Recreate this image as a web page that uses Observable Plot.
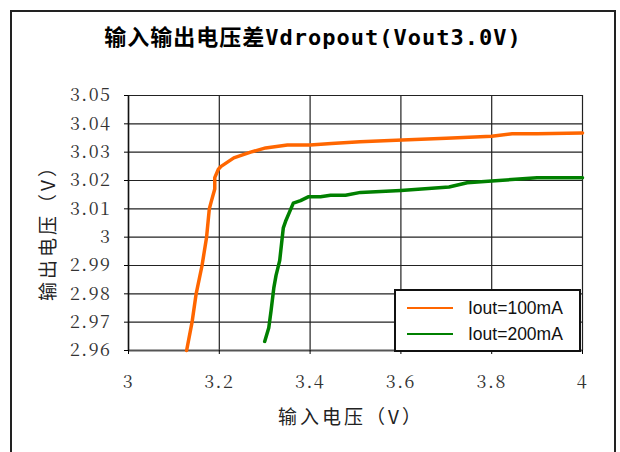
<!DOCTYPE html>
<html>
<head>
<meta charset="utf-8">
<script src="https://cdn.jsdelivr.net/npm/d3@7"></script>
<script src="https://cdn.jsdelivr.net/npm/@observablehq/plot@0.6"></script>
<style>
  html, body { margin: 0; padding: 0; background: #fff; }
  #wrap { position: relative; width: 620px; height: 452px; overflow: hidden; background: #fff; }
  #frame { position: absolute; left: 10px; top: 10px; width: 606px; height: 460px; border: 2px solid #222; box-sizing: border-box; pointer-events: none; }
  #title { position: absolute; left: 3px; top: 0; width: 620px; height: 60px; text-align: center; line-height: 76px;
           font-family: "DejaVu Sans Mono", "Noto Sans CJK SC", monospace; font-weight: bold; font-size: 22px; letter-spacing: 1px; color: #000; }
  #chart { position: absolute; left: 0; top: 60px; }
  .axlabel { position: absolute; font-family: "Noto Sans CJK SC", sans-serif; font-size: 19px; letter-spacing: 3px; color: #222; white-space: nowrap; }
  #xlab { left: 351px; top: 415px; transform: translate(-50%, -50%); }
  #ylab { left: 46px; top: 228px; transform: translate(-50%, -50%) rotate(-90deg); }
  #legend { position: absolute; left: 394px; top: 289px; width: 187px; height: 63px; box-sizing: border-box; border: 2px solid #111; background: #fff;
            font-family: "Liberation Sans", Arial, sans-serif; font-size: 17.5px; color: #111; }
  .lg { position: absolute; left: 0; height: 26px; width: 100%; }
  .lg .sw { position: absolute; left: 11px; top: 12px; width: 46px; height: 0; border-top: 2.5px solid; }
  .lg .tx { position: absolute; left: 72px; top: 0; line-height: 26px; }
</style>
</head>
<body>
<div id="wrap">
  <div id="title">输入输出电压差Vdropout(Vout3.0V)</div>
  <div id="chart"></div>
  <div class="axlabel" id="xlab">输入电压（V）</div>
  <div class="axlabel" id="ylab">输出电压（V）</div>
  <div id="legend"></div>
  <div id="frame"></div>
</div>
<script>
// Series names and colours
const seriesNames = ["Iout=100mA", "Iout=200mA"];
const seriesColors = ["#FF6600", "#008000"];

// Iout=100mA: input voltage (V) and output voltage (V)
const vin100  = [3.128, 3.140, 3.149, 3.162, 3.172, 3.178, 3.183, 3.190, 3.190, 3.198, 3.204, 3.232, 3.269, 3.302, 3.350, 3.400, 3.447, 3.510, 3.603, 3.700, 3.800, 3.845, 3.900, 4.000];
const vout100 = [2.960, 2.970, 2.980, 2.990, 3.000, 3.010, 3.013, 3.017, 3.021, 3.024, 3.025, 3.028, 3.030, 3.0315, 3.0325, 3.0325, 3.0331, 3.0337, 3.0343, 3.0349, 3.0356, 3.0365, 3.0365, 3.0368];

// Iout=200mA
const vin200  = [3.300, 3.309, 3.314, 3.320, 3.325, 3.333, 3.341, 3.346, 3.363, 3.379, 3.397, 3.423, 3.445, 3.478, 3.511, 3.600, 3.706, 3.746, 3.800, 3.900, 4.000];
const vout200 = [2.9632, 2.968, 2.974, 2.982, 2.9865, 2.9917, 3.0033, 3.0056, 3.012, 3.0129, 3.0143, 3.0143, 3.0148, 3.0148, 3.0158, 3.0165, 3.0177, 3.0192, 3.0198, 3.0210, 3.0210];

// Axis ticks
const xTicks = [3, 3.2, 3.4, 3.6, 3.8, 4];
const yTicks = [2.96, 2.97, 2.98, 2.99, 3.00, 3.01, 3.02, 3.03, 3.04, 3.05];

const data = [
  ...vin100.map((v, i) => ({series: seriesNames[0], vin: v, vout: vout100[i]})),
  ...vin200.map((v, i) => ({series: seriesNames[1], vin: v, vout: vout200[i]}))
];
const fmt = d => String(+d.toFixed(2));
const tickFont = "'Noto Serif CJK SC', 'Liberation Serif', serif";

const plot = Plot.plot({
  width: 620,
  height: 392,
  marginLeft: 128,
  marginRight: 38,
  marginTop: 35,
  marginBottom: 102,
  style: {background: "transparent", overflow: "visible", fontFamily: tickFont, fontSize: "18px"},
  x: {domain: [3, 4]},
  y: {domain: [2.96, 3.05]},
  color: {domain: seriesNames, range: seriesColors},
  marks: [
    Plot.ruleX(xTicks, {stroke: "#222", strokeWidth: 1.2}),
    Plot.ruleY(yTicks, {stroke: "#222", strokeWidth: 1.2}),
    Plot.ruleY([2.96], {stroke: "#555", strokeWidth: 2}),
    Plot.ruleX([3], {stroke: "#111", strokeWidth: 1.5}),
    Plot.axisX({ticks: xTicks, tickFormat: fmt, tickSize: 4, tickPadding: 21, label: null, fill: "#333"}),
    Plot.axisY({ticks: yTicks, tickFormat: fmt, tickSize: 4, tickPadding: 13, label: null, fill: "#333"}),
    Plot.line(data, {x: "vin", y: "vout", z: "series", stroke: "series", strokeWidth: 3.5, curve: "linear"})
  ]
});
d3.select(plot).selectAll("text")
  .style("font-family", tickFont)
  .style("font-size", "18px")
  .style("letter-spacing", "1.5px");
document.getElementById("chart").appendChild(plot);

// Legend
const lg = document.getElementById("legend");
seriesNames.forEach((name, i) => {
  const row = document.createElement("div");
  row.className = "lg";
  row.style.top = (4 + i * 26) + "px";
  row.innerHTML = `<div class="sw" style="border-color:${seriesColors[i]}"></div><div class="tx">${name}</div>`;
  lg.appendChild(row);
});
</script>
</body>
</html>
